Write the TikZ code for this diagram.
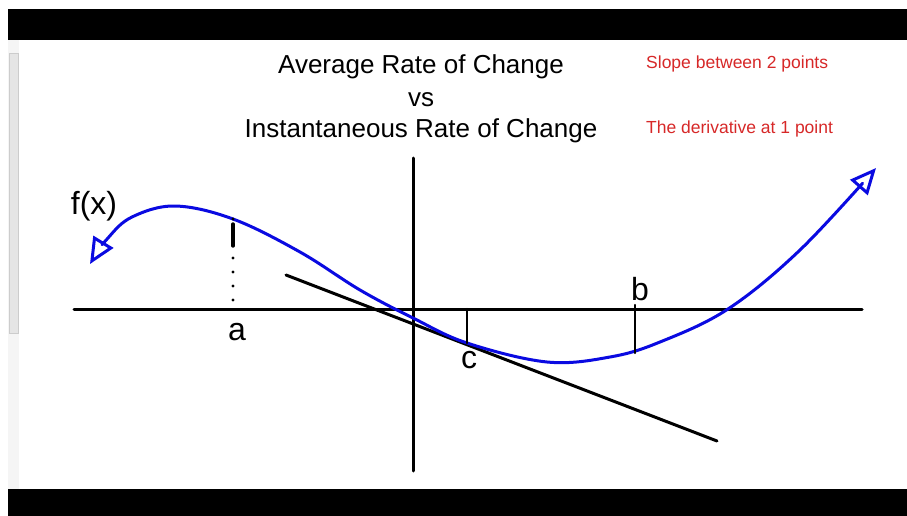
\documentclass[tikz,border=0pt]{standalone}
\usepackage{fontspec}
\setmainfont{Liberation Sans}
\usetikzlibrary{arrows.meta}

\definecolor{penblue}{RGB}{10,10,225}
\definecolor{notered}{RGB}{215,40,40}
\tikzset{
  pen/.style={line width=3pt, line cap=round, line join=round},
  hand/.style={font=\fontsize{32}{32}\selectfont, inner sep=0pt},
  title/.style={font=\fontsize{26}{26}\selectfont, anchor=base, inner sep=0pt},
  note/.style={font=\fontsize{17.5}{17.5}\selectfont, text=notered, anchor=base west, inner sep=0pt},
}

\begin{document}
\begin{tikzpicture}[x=1pt, y=-1pt]
	% Frame of the screen:
	\useasboundingbox (0,0) rectangle (907,516);
	\fill[white] (0,0) rectangle (907,516);
	\fill[black] (8,9) rectangle (907,40);
	\fill[black] (8,489) rectangle (907,516);
	\fill[gray!8] (8,40) rectangle (19,489);
	\filldraw[fill=gray!20, draw=gray!40] (9,53) rectangle (18,333);

	% Texts:
	\node[title] (avg) at (421,74) {Average Rate of Change};
	\node[title] (vs) at (421,107) {vs};
	\node[title] (inst) at (421,137) {Instantaneous Rate of Change};
	\node[note] (slope) at (646,69) {Slope between 2 points};
	\node[note] (deriv) at (646,133) {The derivative at 1 point};

	% Axes and tangent:
	\coordinate (xl) at (74,309);
	\coordinate (xr) at (862,309);
	\coordinate (yt) at (413,158);
	\coordinate (yb) at (413,471);
	\coordinate (tl) at (286,275);
	\coordinate (tr) at (717,441);
	\draw[pen] (xl) -- (xr);
	\draw[pen] (yt) -- (yb);
	\draw[pen] (tl) -- (tr);

	% The function:
	\draw[pen, penblue, {Triangle[open, length=26pt, width=23pt]}-{Triangle[open, length=26pt, width=23pt]}]
	  plot[smooth, tension=0.6] coordinates {(90,264) (108,238) (132,217) (175,206) (233,219) (300,252)
	    (360,290) (413,318) (467,343) (547,362) (610,357) (660,342) (728,309) (800,250) (876,168)};

	% Points a, b, c:
	\coordinate (ptop) at (233,219);
	\coordinate (pbot) at (233,303);
	\coordinate (ctop) at (467,309);
	\coordinate (cbot) at (467,343);
	\coordinate (btop) at (635,305);
	\coordinate (bbot) at (635,353);
	\draw[pen, line width=3.4pt, dash pattern=on 0pt off 5pt on 22pt off 12pt on 0pt off 14pt on 0pt off 14pt on 0pt off 14pt on 0pt off 20pt] (ptop) -- (pbot);
	\draw[pen, line width=2.4pt] (ctop) -- (cbot);
	\draw[pen, line width=2.4pt] (btop) -- (bbot);
	\node[hand] (a) at (237,332) {a};
	\node[hand] (c) at (469,360) {c};
	\node[hand] (b) at (640,289) {b};
	\node[hand] (fx) at (94,206) {f(x)};
\end{tikzpicture}
\end{document}
